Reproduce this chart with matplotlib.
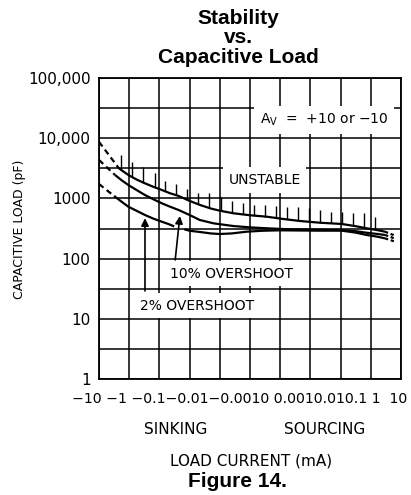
import numpy as np
import matplotlib
matplotlib.use('Agg')
import matplotlib.pyplot as plt

# ---- 坐标刻度 ----
x_ticks = [-10, -1, -0.1, -0.01, -0.001, 0, 0.001, 0.01, 0.1, 1, 10]
x_ticklabels = ['−10', '−1', '−0.1', '−0.01', '−0.001', '0',
                '0.001', '0.01', '0.1', '1', '10']
x_label_gaps = [' ', ' ', '', '', '', ' ', '', '', ' ', '  ']
y_ticks = [1, 10, 100, 1000, 10000, 100000]
y_ticklabels = ['1', '10', '100', '1000', '10,000', '100,000']

# ---- 曲线数据 (负载电流 mA, 电容 pF) ----
# 不稳定边界
unstable_dash_x = [-10, -2.19]
unstable_dash_y = [8700, 3160]
unstable_x = [-2.19, -1.41, -1.0, -0.56, -0.30, -0.16, -0.083, -0.045, -0.023,
              -0.01, -0.0046, -0.002, -0.001, -0.00055, 0, 0.00055, 0.00126,
              0.0046, 0.02, 0.11, 0.32, 0.72, 1.6, 2.95]
unstable_y = [3160, 2700, 2400, 2050, 1780, 1560, 1380, 1220, 1096,
              910, 780, 680, 625, 566, 525, 497, 455,
              421, 395, 376, 345, 319, 298, 280]
unstable_end_x = [2.95, 6.8]
unstable_end_y = [280, 237]

# 10% 过冲
os10_dash_x = [-10, -2.95]
os10_dash_y = [4350, 2450]
os10_x = [-2.95, -1.78, -1.07, -0.56, -0.30, -0.16, -0.083, -0.045, -0.023,
          -0.01, -0.0046, -0.0016, -0.00056, 0, 0.00055, 0.0025, 0.021,
          0.11, 0.32, 0.72, 1.6, 2.95]
os10_y = [2450, 2000, 1670, 1370, 1137, 970, 829, 730, 641,
          530, 438, 385, 348, 330, 319, 305, 302,
          298, 285, 269, 257, 247]
os10_end_x = [2.95, 6.8]
os10_end_y = [247, 212]

# 2% 过冲 (两段)
os2_dash_x = [-10, -2.95]
os2_dash_y = [1735, 1067]
os2_a_x = [-2.95, -1.78, -1.07, -0.56, -0.30, -0.16, -0.083, -0.05, -0.035]
os2_a_y = [1067, 880, 728, 620, 530, 462, 410, 375, 348]
os2_b_x = [-0.015, -0.01, -0.0046, -0.002, -0.001, -0.0006, -0.00011, 0.0004,
           0.00099, 0.004, 0.021, 0.11, 0.32, 0.72, 1.6, 2.95]
os2_b_y = [307, 290, 277, 262, 256, 262, 280, 290,
           295, 293, 291, 291, 270, 247, 232, 217]
os2_end_x = [2.95, 6.8]
os2_end_y = [217, 189]

# 不稳定区阴影竖线
hatch_x = [-1.86, -0.83, -0.34, -0.145, -0.065, -0.028, -0.012, -0.0051,
           -0.0022, -0.00097, -0.00061, -0.00024, 0.00013, 0.0005, 0.00086,
           0.0017, 0.004, 0.0093, 0.021, 0.048, 0.11, 0.25, 0.59, 1.38]
hatch_top = [5260, 4070, 3370, 2610, 1970, 1710, 1420, 1245,
             1215, 1067, 916, 840, 776, 776, 748, 711,
             711, 685, 641, 601, 601, 578, 565, 497]

W, H = 411, 495
fig = plt.figure(figsize=(W / 100, H / 100), dpi=100)
ax = fig.add_axes([99 / W, 1 - 379 / H, 302 / W, 301 / H])

ax.set_xscale('symlog', linthresh=1e-3, linscale=0.9)
ax.set_yscale('log')
ax.set_xlim(-10, 10)
ax.set_ylim(1, 1e5)

ax.set_xticks(x_ticks)
ax.set_xticklabels([])
ax.xaxis.set_minor_locator(matplotlib.ticker.NullLocator())
ax.set_yticks(y_ticks)
ax.set_yticklabels(y_ticklabels, fontsize=11)
ax.set_yticks([10 ** (k + 0.5) for k in range(5)], minor=True)
ax.yaxis.set_minor_formatter(matplotlib.ticker.NullFormatter())
ax.tick_params(which='both', length=0)
ax.tick_params(axis='y', pad=6)

ax.set_axisbelow(True)
ax.grid(True, which='both', color='black', lw=1.1)
for s in ax.spines.values():
    s.set_linewidth(1.3)

# 曲线
lw = 1.6
dash = (0, (2.6, 1.8))
brk = (0, (1.5, 1.2))
for dx, dy, sx, sy, ex, ey in [
        (unstable_dash_x, unstable_dash_y, unstable_x, unstable_y, unstable_end_x, unstable_end_y),
        (os10_dash_x, os10_dash_y, os10_x, os10_y, os10_end_x, os10_end_y),
        (os2_dash_x, os2_dash_y, os2_b_x, os2_b_y, os2_end_x, os2_end_y)]:
    ax.plot(dx, dy, color='black', lw=lw, linestyle=dash)
    ax.plot(sx, sy, color='black', lw=lw, solid_capstyle='butt')
    ax.plot(ex, ey, color='black', lw=lw, linestyle=brk)
ax.plot(os2_a_x, os2_a_y, color='black', lw=lw)

# 阴影竖线 (下端落在不稳定边界上)
fwd = ax.xaxis.get_transform()
tx = fwd.transform(np.array(unstable_x, dtype=float))
hx = fwd.transform(np.array(hatch_x, dtype=float))
hatch_bottom = 10 ** np.interp(hx, tx, np.log10(unstable_y))
ax.vlines(hatch_x, hatch_bottom, hatch_top, color='black', lw=1.0)

# 标注文字
box = dict(boxstyle='square,pad=0.4', fc='white', ec='none')
ax.text(0.00048, 2020, 'UNSTABLE', ha='center', va='center', fontsize=10, bbox=box)
ax.text(0.028, 20000, 'A$_\\mathregular{V}$  =  +10 or −10', ha='center', va='center',
        fontsize=10, bbox=box)
ax.text(-0.00061, 56.5, '10% OVERSHOOT', ha='center', va='center', fontsize=10, bbox=box)
ax.text(-0.0057, 16.6, '2% OVERSHOOT', ha='center', va='center', fontsize=10, bbox=box)

arrow = dict(arrowstyle='-|>', color='black', lw=1.2, mutation_scale=11, shrinkA=0, shrinkB=0)
ax.annotate('', xy=(-0.30, 470), xytext=(-0.30, 29), arrowprops=arrow)
ax.annotate('', xy=(-0.021, 510), xytext=(-0.030, 95), arrowprops=arrow)

# x 轴刻度文字 (原图中挤在一起)
xs = ''
for lab, gap in zip(x_ticklabels, x_label_gaps + ['']):
    xs += lab + gap
ax.text(-0.09, -0.08, xs, transform=ax.transAxes, ha='left', va='baseline', fontsize=10.2)

ax.text(0.255, -0.169, 'SINKING', transform=ax.transAxes, ha='center', va='center', fontsize=11)
ax.text(0.748, -0.169, 'SOURCING', transform=ax.transAxes, ha='center', va='center', fontsize=11)
ax.text(0.503, -0.272, 'LOAD CURRENT (mA)', transform=ax.transAxes, ha='center',
        va='center', fontsize=11)
fig.text(20 / W, 1 - 229 / H, 'CAPACITIVE LOAD (pF)', rotation=90, ha='center',
         va='center', fontsize=9)

# 标题
tfont = dict(family='Liberation Sans', weight='bold', fontsize=15, ha='center')
fig.text(238 / W, 1 - 8.5 / H, 'Stability\nvs.\nCapacitive Load', va='top',
         linespacing=1.05, **tfont)
fig.text(237 / W, 1 - 487 / H, 'Figure 14.', va='baseline', **tfont)

fig.savefig('out.png', dpi=100)
